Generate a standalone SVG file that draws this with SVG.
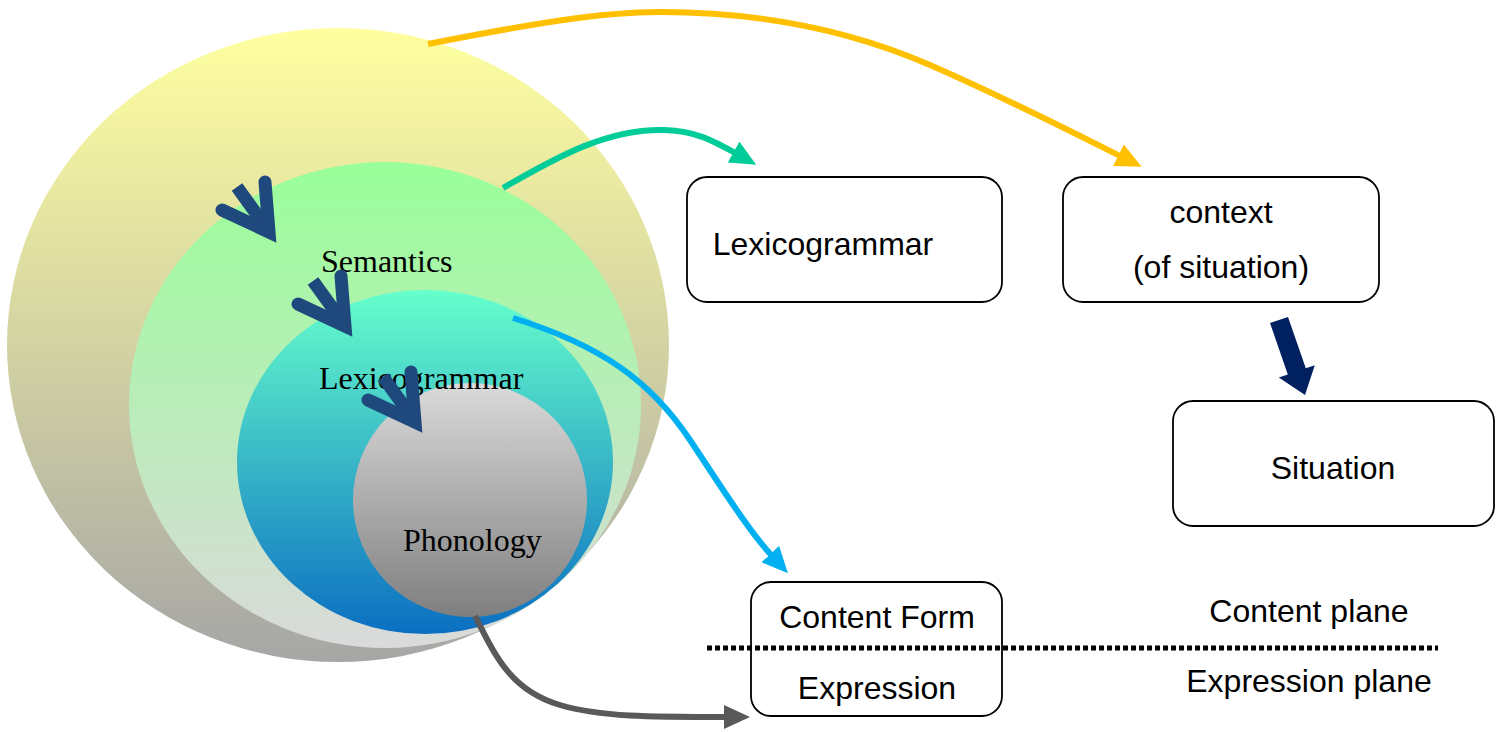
<svg xmlns="http://www.w3.org/2000/svg" width="1502" height="732" viewBox="0 0 1502 732">
<style>
.box{fill:#fff;stroke:#000;stroke-width:1.8}
.t{font-family:"Liberation Sans",Arial,sans-serif;font-size:32px;fill:#000;text-anchor:middle}
.s{font-family:"Liberation Serif","Times New Roman",serif;font-size:32px;fill:#000}
.con{fill:none;stroke-width:6}
</style>
<defs>
<linearGradient id="gY" x1="0" y1="0" x2="0" y2="1"><stop offset="0" stop-color="#FFFFA0"/><stop offset="1" stop-color="#A6A6A6"/></linearGradient>
<linearGradient id="gG" x1="0" y1="0" x2="0" y2="1"><stop offset="0" stop-color="#99FF99"/><stop offset="1" stop-color="#DADADA"/></linearGradient>
<linearGradient id="gC" x1="0" y1="0" x2="0" y2="1"><stop offset="0" stop-color="#66FFCC"/><stop offset="1" stop-color="#0B6FC2"/></linearGradient>
<linearGradient id="gP" x1="0" y1="0" x2="0" y2="1"><stop offset="0" stop-color="#DADADA"/><stop offset="1" stop-color="#7F7F7F"/></linearGradient>
<marker id="mY" markerUnits="userSpaceOnUse" markerWidth="26" markerHeight="24" refX="4" refY="12" orient="auto"><path d="M0,0 L26,12 L0,24 Z" fill="#FFC000"/></marker>
<marker id="mG" markerUnits="userSpaceOnUse" markerWidth="26" markerHeight="24" refX="4" refY="12" orient="auto"><path d="M0,0 L26,12 L0,24 Z" fill="#00CC99"/></marker>
<marker id="mB" markerUnits="userSpaceOnUse" markerWidth="26" markerHeight="24" refX="4" refY="12" orient="auto"><path d="M0,0 L26,12 L0,24 Z" fill="#00B0F0"/></marker>
<marker id="mD" markerUnits="userSpaceOnUse" markerWidth="26" markerHeight="24" refX="4" refY="12" orient="auto"><path d="M0,0 L26,12 L0,24 Z" fill="#595959"/></marker>
<g id="chev">
<path d="M-40,-56 L-14,-20" fill="none" stroke="#1F487C" stroke-width="13"/>
<path d="M-12,-61 L-8,-11 L-55,-33" fill="none" stroke="#1F487C" stroke-width="13" stroke-linecap="round" stroke-linejoin="miter" stroke-miterlimit="6"/>
</g>
</defs>

<g id="strata">
<ellipse cx="338" cy="345" rx="331" ry="317" fill="url(#gY)"/>
<ellipse cx="385" cy="405" rx="256" ry="243" fill="url(#gG)"/>
<ellipse cx="425" cy="462" rx="188" ry="172" fill="url(#gC)"/>
<circle cx="470" cy="500" r="117" fill="url(#gP)"/>
<text class="s" x="321" y="272">Semantics</text>
<text class="s" x="319" y="389">Lexicogrammar</text>
<text class="s" x="403" y="551">Phonology</text>
<use href="#chev" x="277" y="243"/>
<use href="#chev" x="353" y="337"/>
<use href="#chev" x="423" y="433"/>
</g>

<g id="box-lexicogrammar">
<rect class="box" x="687" y="177" width="315" height="125" rx="20"/>
<text class="t" x="823" y="255">Lexicogrammar</text>
</g>
<g id="box-context">
<rect class="box" x="1063" y="177" width="316" height="125" rx="20"/>
<text class="t" x="1221" y="223">context</text>
<text class="t" x="1221" y="278">(of situation)</text>
</g>
<g id="box-situation">
<rect class="box" x="1173" y="401" width="321" height="125" rx="20"/>
<text class="t" x="1333" y="479">Situation</text>
</g>
<g id="box-content">
<rect class="box" x="751" y="582" width="251" height="134" rx="20"/>
<text class="t" x="877" y="628">Content Form</text>
<text class="t" x="877" y="699">Expression</text>
</g>
<g id="planes">
<text class="t" x="1309" y="622">Content plane</text>
<text class="t" x="1309" y="692">Expression plane</text>
<line x1="707" y1="648" x2="1438" y2="648" stroke="#000" stroke-width="5" stroke-dasharray="5 3"/>
</g>

<g id="connectors">
<path class="con" stroke="#FFC000" d="M428,44 C530,24 600,12 660,12 C760,12 850,30 930,65 C1010,100 1080,136 1122,157" marker-end="url(#mY)"/>
<path class="con" stroke="#00CC99" d="M503,188 C560,155 610,128 665,130 C695,131 712,140 737,154" marker-end="url(#mG)"/>
<path class="con" stroke="#00B0F0" d="M513,318 C600,345 650,380 690,440 C720,485 748,530 773,557" marker-end="url(#mB)"/>
<path class="con" stroke="#595959" d="M475,616 C495,655 510,690 560,705 C600,717 650,717 728,717" marker-end="url(#mD)"/>
<polygon fill="#002060" points="1270,323 1288,317 1305.8,368.3 1314.8,365.2 1305,395 1278.8,377.6 1287.8,374.5"/>
</g>
</svg>
